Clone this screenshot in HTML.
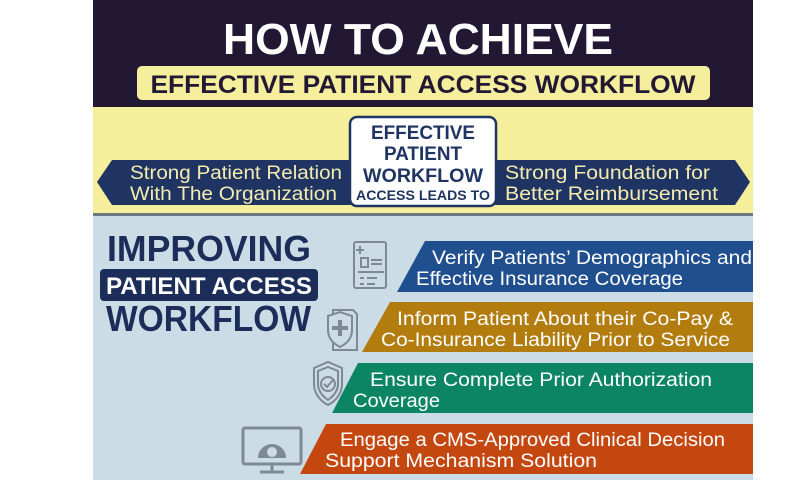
<!DOCTYPE html>
<html><head><meta charset="utf-8"><style>
html,body{margin:0;padding:0;background:#fff;}
svg{display:block;}
text{font-family:"Liberation Sans",sans-serif;}
</style></head><body>
<svg width="800" height="480" viewBox="0 0 800 480" xmlns="http://www.w3.org/2000/svg">
<rect x="0" y="0" width="800" height="480" fill="#fff"/>
<!-- top band -->
<rect x="93" y="0" width="660" height="107" fill="#221833"/>
<text x="418" y="54" text-anchor="middle" font-size="44" font-weight="bold" fill="#fff" textLength="390" lengthAdjust="spacingAndGlyphs">HOW TO ACHIEVE</text>
<rect x="137" y="66" width="573" height="34" rx="5" fill="#f5ee9c"/>
<text x="423" y="93" text-anchor="middle" font-size="25" font-weight="bold" fill="#221833" textLength="545" lengthAdjust="spacingAndGlyphs">EFFECTIVE PATIENT ACCESS WORKFLOW</text>
<!-- yellow band -->
<rect x="93" y="107" width="660" height="107" fill="#f5ef9c"/>
<rect x="93" y="213" width="660" height="3" fill="#6b7a80"/>
<polygon points="97,182 112,160 735,160 750,182 735,205 112,205" fill="#1f3463"/>
<text x="130" y="179" font-size="19" fill="#f3ecae" textLength="212" lengthAdjust="spacingAndGlyphs">Strong Patient Relation</text>
<text x="130" y="200" font-size="19" fill="#f3ecae" textLength="207" lengthAdjust="spacingAndGlyphs">With The Organization</text>
<text x="505" y="179" font-size="19" fill="#f3ecae" textLength="205" lengthAdjust="spacingAndGlyphs">Strong Foundation for</text>
<text x="505" y="200" font-size="19" fill="#f3ecae" textLength="213" lengthAdjust="spacingAndGlyphs">Better Reimbursement</text>
<rect x="350" y="117" width="146" height="89" rx="7" fill="#fff" stroke="#1f3463" stroke-width="2.5"/>
<text x="423" y="139" text-anchor="middle" font-size="19" font-weight="bold" fill="#1f3463" textLength="104" lengthAdjust="spacingAndGlyphs">EFFECTIVE</text>
<text x="423" y="160" text-anchor="middle" font-size="19" font-weight="bold" fill="#1f3463" textLength="78" lengthAdjust="spacingAndGlyphs">PATIENT</text>
<text x="423" y="182" text-anchor="middle" font-size="19" font-weight="bold" fill="#1f3463" textLength="120" lengthAdjust="spacingAndGlyphs">WORKFLOW</text>
<text x="423" y="200" text-anchor="middle" font-size="14" font-weight="bold" fill="#1f3463" textLength="134" lengthAdjust="spacingAndGlyphs">ACCESS LEADS TO</text>
<!-- blue band -->
<rect x="93" y="216" width="660" height="264" fill="#cbdce7"/>
<text x="107" y="261" font-size="36" font-weight="bold" fill="#1c2d5a" textLength="204" lengthAdjust="spacingAndGlyphs">IMPROVING</text>
<rect x="100" y="269" width="218" height="32" rx="4" fill="#1c2d5a"/>
<text x="209" y="294" text-anchor="middle" font-size="24" font-weight="bold" fill="#fff" textLength="206" lengthAdjust="spacingAndGlyphs">PATIENT ACCESS</text>
<text x="106" y="331" font-size="36" font-weight="bold" fill="#1c2d5a" textLength="205" lengthAdjust="spacingAndGlyphs">WORKFLOW</text>
<!-- bars -->
<polygon points="425,241 753,241 753,292 397,292" fill="#1f4f8f"/>
<text x="432" y="264" font-size="19" fill="#fff" textLength="320" lengthAdjust="spacingAndGlyphs">Verify Patients’ Demographics and</text>
<text x="416" y="285" font-size="19" fill="#fff" textLength="267" lengthAdjust="spacingAndGlyphs">Effective Insurance Coverage</text>
<polygon points="390,302 753,302 753,352 362,352" fill="#b27c0f"/>
<text x="397" y="325" font-size="19" fill="#fff" textLength="336" lengthAdjust="spacingAndGlyphs">Inform Patient About their Co-Pay &amp;</text>
<text x="381" y="346" font-size="19" fill="#fff" textLength="349" lengthAdjust="spacingAndGlyphs">Co-Insurance Liability Prior to Service</text>
<polygon points="358,363 753,363 753,413 332,413" fill="#0b8563"/>
<text x="370" y="386" font-size="19" fill="#fff" textLength="342" lengthAdjust="spacingAndGlyphs">Ensure Complete Prior Authorization</text>
<text x="353" y="407" font-size="19" fill="#fff" textLength="87" lengthAdjust="spacingAndGlyphs">Coverage</text>
<polygon points="326,424 753,424 753,474 300,474" fill="#c4470f"/>
<text x="340" y="446" font-size="19" fill="#fff" textLength="385" lengthAdjust="spacingAndGlyphs">Engage a CMS-Approved Clinical Decision</text>
<text x="325" y="467" font-size="19" fill="#fff" textLength="272" lengthAdjust="spacingAndGlyphs">Support Mechanism Solution</text>
<!-- icons -->
<g fill="none" stroke="#7d8a94" stroke-width="2">
<rect x="354" y="242" width="32" height="46" rx="2"/>
<path d="M360 246v8M356 250h8"/>
<rect x="361" y="258" width="7" height="9"/>
<path d="M371 260h11M371 264h11M358 272h26M360 278h4M367 278h10M360 284h4M367 284h8"/>
<path d="M333 310h20l4 4v36h-24z"/>
<path d="M328 316l12-4 12 4v14c0 9-6 14-12 17-6-3-12-8-12-17z" fill="#cbdce7"/>
<path d="M340 320v16M332 328h16" stroke-width="4"/>
<path d="M314 368l14-6 14 6v16c0 11-8 18-14 21-6-3-14-10-14-21z"/>
<path d="M318 371l10-4 10 4v13c0 8-6 13-10 16-4-3-10-8-10-16z"/>
<circle cx="328" cy="384" r="7"/>
<path d="M324 384l3 3 6-7"/>
<rect x="243" y="428" width="58" height="36" rx="2" stroke-width="3"/>
<path d="M272 464v7M260 472h24" stroke-width="3"/>
</g>
<path d="M258 458a14 14 0 0 1 28 0z" fill="#7d8a94"/>
<circle cx="272" cy="452" r="5" fill="#cbdce7"/>
</svg>
</body></html>
